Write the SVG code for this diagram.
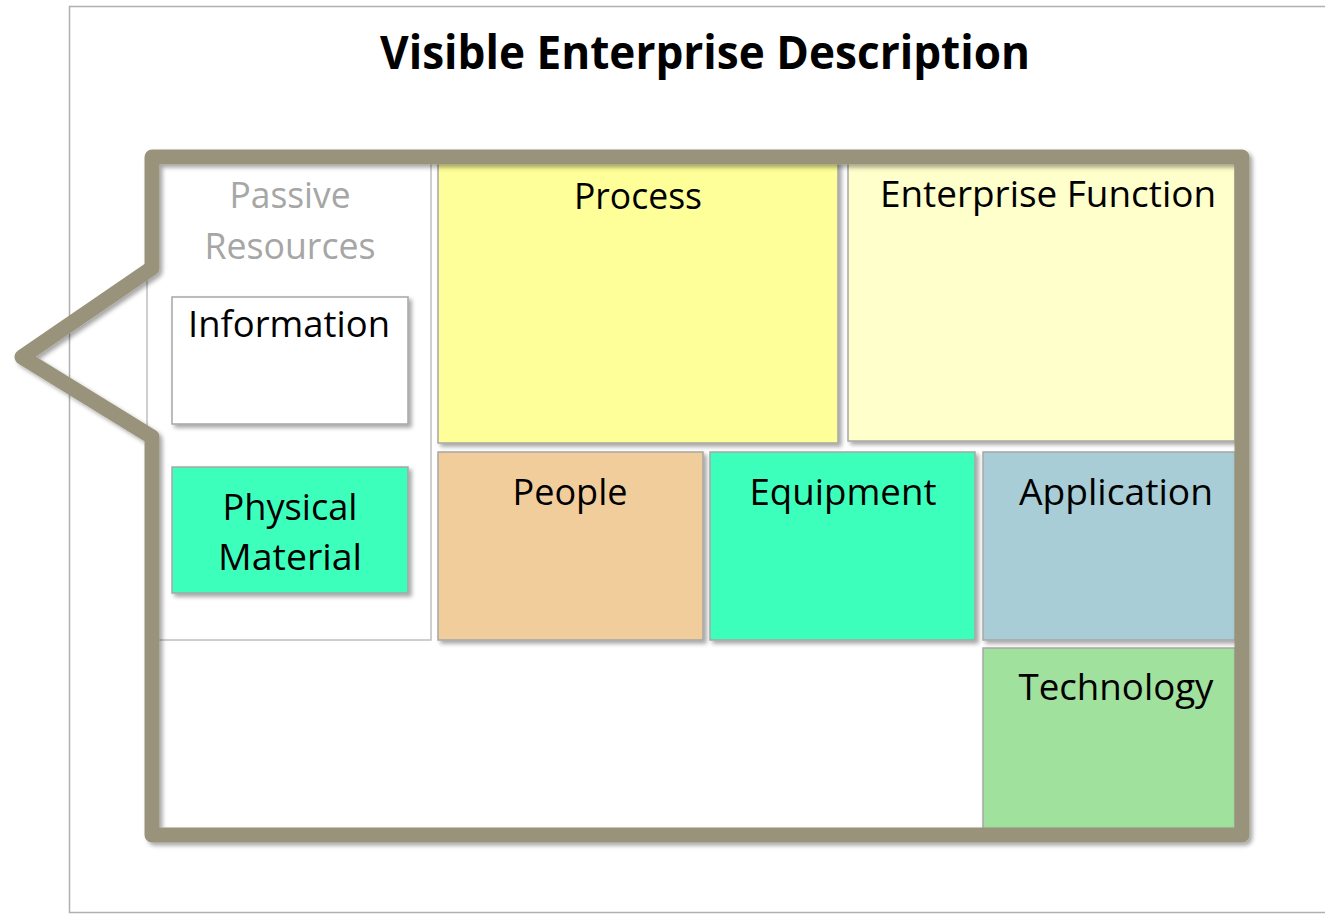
<svg xmlns="http://www.w3.org/2000/svg" width="1325" height="914" viewBox="0 0 1325 914">
<defs>
<filter id="sh" x="-10%" y="-10%" width="130%" height="130%">
<feDropShadow dx="3" dy="3" stdDeviation="2" flood-color="#000" flood-opacity="0.35"/>
</filter>
<style>
.box{stroke:#A6A6A6;stroke-width:1.5;filter:url(#sh);}
.lbl{font-family:"Open Sans","Noto Sans",sans-serif;font-size:36px;fill:#000;text-anchor:middle;}
.grey{fill:#A6A6A6;}
.frame{fill:none;stroke:#9A937B;stroke-width:15;stroke-linejoin:round;filter:url(#sh);}
</style>
</defs>
<rect width="1325" height="914" fill="#fff"/>
<rect x="69.5" y="6.5" width="1270" height="906" fill="#fff" stroke="#B0B0B0" stroke-width="1.5"/>
<text x="705" y="69" font-family="'Open Sans','Noto Sans',sans-serif" font-weight="bold" font-size="46" text-anchor="middle" textLength="650" lengthAdjust="spacingAndGlyphs">Visible Enterprise Description</text>

<g id="passive-resources">
<rect x="147" y="158" width="284" height="482" fill="#fff" stroke="#BFBFBF" stroke-width="1.5"/>
<text class="lbl grey" x="290" y="208" textLength="121" lengthAdjust="spacingAndGlyphs">Passive</text>
<text class="lbl grey" x="290" y="259" textLength="171" lengthAdjust="spacingAndGlyphs">Resources</text>
</g>
<g id="information">
<rect class="box" x="172" y="297" width="236" height="127" fill="#fff"/>
<text class="lbl" x="289" y="337" textLength="202" lengthAdjust="spacingAndGlyphs">Information</text>
</g>
<g id="physical-material">
<rect class="box" x="172" y="467" width="236" height="126" fill="#3DFFBC"/>
<text class="lbl" x="290" y="520" textLength="135" lengthAdjust="spacingAndGlyphs">Physical</text>
<text class="lbl" x="290" y="570" textLength="144" lengthAdjust="spacingAndGlyphs">Material</text>
</g>
<g id="process">
<rect class="box" x="438" y="161" width="400" height="282" fill="#FFFF99"/>
<text class="lbl" x="638" y="209" textLength="128" lengthAdjust="spacingAndGlyphs">Process</text>
</g>
<g id="enterprise-function">
<rect class="box" x="848" y="161" width="387" height="280" fill="#FFFFCC"/>
<text class="lbl" x="1048" y="207" textLength="336" lengthAdjust="spacingAndGlyphs">Enterprise Function</text>
</g>
<g id="people">
<rect class="box" x="438" y="452" width="265" height="188" fill="#F2CD9C"/>
<text class="lbl" x="570" y="505" textLength="115" lengthAdjust="spacingAndGlyphs">People</text>
</g>
<g id="equipment">
<rect class="box" x="710" y="452" width="265" height="188" fill="#3DFFBC"/>
<text class="lbl" x="843" y="505" textLength="187" lengthAdjust="spacingAndGlyphs">Equipment</text>
</g>
<g id="application">
<rect class="box" x="983" y="452" width="252" height="188" fill="#A8CDD6"/>
<text class="lbl" x="1116" y="505" textLength="194" lengthAdjust="spacingAndGlyphs">Application</text>
</g>
<g id="technology">
<rect class="box" x="983" y="648" width="252" height="181" fill="#A0E19E"/>
<text class="lbl" x="1116" y="700" textLength="195" lengthAdjust="spacingAndGlyphs">Technology</text>
</g>

<g id="connectors">
<path class="frame" d="M152,268 L22,357 L152,437 L152,835 L1242,835 L1242,157 L152,157 Z"/>
</g>
</svg>
